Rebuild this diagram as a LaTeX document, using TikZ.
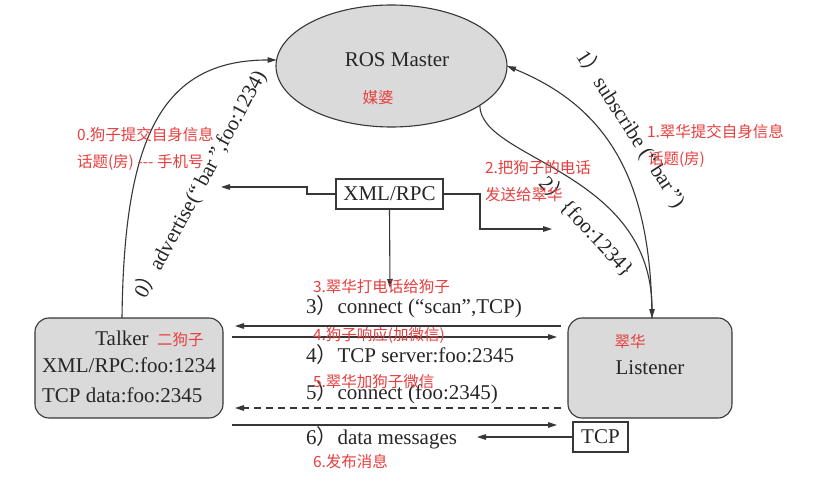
\documentclass[tikz,border=0pt]{standalone}
\usepackage{fontspec}
\setmainfont{Liberation Serif}
\newfontfamily\cjk{Noto Sans CJK SC}
\usetikzlibrary{arrows.meta,shapes.geometric}
\definecolor{redtxt}{RGB}{232,62,62}
\definecolor{boxfill}{RGB}{218,218,218}
\definecolor{linec}{RGB}{55,55,55}
\newcommand\rpar{{\cjk ）}}
\begin{document}
\begin{tikzpicture}[x=1pt,y=-1pt,
  every node/.style={inner sep=0pt, outer sep=0pt},
  lbl/.style={font=\fontsize{21}{25}\selectfont, text=black!85},
  note/.style={font=\cjk\fontsize{15.5}{18}\selectfont, text=redtxt, anchor=west},
  conn/.style={draw=linec, line width=1.1pt, -{Triangle[length=9pt,width=5.5pt]}},
  rbox/.style={draw=linec, line width=1.1pt, fill=boxfill, rounded corners=14pt},
  sbox/.style={draw=linec, line width=1.1pt, fill=white}
]
\path[use as bounding box, fill=white] (0,0) rectangle (817,481);

% nodes
\node[ellipse, draw=linec, line width=1.1pt, fill=boxfill, minimum width=231pt, minimum height=122pt] (master) at (391.5,66) {};
\node[lbl] (mastertxt) at (397,60) {ROS Master};
\node[note, anchor=center] (meipo) at (378,98) {媒婆};

\node[rbox, minimum width=188pt, minimum height=100pt] (talker) at (129,368) {};
\node[lbl] (talkertxt) at (122,338) {Talker};
\node[note] (ergouzi) at (157,340) {二狗子};
\node[lbl, anchor=west] (talkerxml) at (42,365) {XML/RPC:foo:1234};
\node[lbl, anchor=west] (talkertcp) at (42,395) {TCP data:foo:2345};

\node[rbox, minimum width=164pt, minimum height=100pt] (listener) at (650,368) {};
\node[note, anchor=center] (cuihua) at (630,342) {翠华};
\node[lbl] (listenertxt) at (650,368) {Listener};

\node[sbox, minimum width=55pt, minimum height=30pt] (tcp) at (600.5,437) {};
\node[lbl] (tcptxt) at (600.5,437) {TCP};

\node[sbox, minimum width=107pt, minimum height=30pt] (xml) at (389.5,194) {};
\node[lbl] (xmltxt) at (389.5,194) {XML/RPC};

% free ends
\coordinate (xmlL) at (221,187);
\coordinate (xmlR) at (552,229);
\coordinate (xmlD) at (390,288);
\coordinate (l1) at (235,326); \coordinate (r1) at (561,326);
\coordinate (l2) at (232,337); \coordinate (r2) at (557,337);
\coordinate (l3) at (235,408); \coordinate (r3) at (561,408);
\coordinate (l4) at (232,425); \coordinate (r4) at (557,425);
\coordinate (dm) at (477,437);

% XML/RPC connectors
\draw[conn] (xml.west) -- (307,194) -- (307,187) -- (xmlL);
\draw[conn] (xml.east) -- (480,194) -- (480,229) -- (xmlR);
\draw[conn] (xml.south) -- (xmlD);

% horizontal connectors
\draw[conn] (r1) -- (l1);
\draw[conn] (l2) -- (r2);
\draw[conn, dashed, dash pattern=on 7pt off 5pt] (r3) -- (l3);
\draw[conn] (l4) -- (r4);
\draw[conn] (tcp.west) -- (dm);

% curves
\draw[conn] ([xshift=-7pt]talker.north) .. controls (124,140) and (160,60) .. (master.177);
\draw[conn] ([xshift=2pt]listener.north) .. controls (651,190) and (615,110) .. (master.east);
\draw[conn] (master.-24) .. controls (480,160) and (652,170) .. ([xshift=2pt]listener.north);

% rotated labels
\node[lbl, rotate=61.7] (adv) at (200,184) {0\rpar advertise(“\,bar\,”,foo:1234)};
\node[lbl, rotate=-57] (sub) at (631,129) {1\rpar subscribe (“\,bar\,”)};
\node[lbl, rotate=-47] (foo) at (587,226) {2\rpar\{foo:1234\}};

% message labels
\node[lbl, anchor=west] (m3) at (306,307) {3\rpar connect (“scan”,TCP)};
\node[lbl, anchor=west] (m4) at (306,355) {4\rpar TCP server:foo:2345};
\node[lbl, anchor=west] (m5) at (306,393) {5\rpar connect (foo:2345)};
\node[lbl, anchor=west] (m6) at (306,438) {6\rpar data messages};

% red notes
\node[note] (n0a) at (77,135) {0.狗子提交自身信息};
\node[note] (n0b) at (77,163) {话题(房) --- 手机号};
\node[note] (n1a) at (647,132) {1.翠华提交自身信息};
\node[note] (n1b) at (648,160) {话题(房)};
\node[note] (n2a) at (485,168) {2.把狗子的电话};
\node[note] (n2b) at (485,195) {发送给翠华};
\node[note] (n3) at (313,287) {3.翠华打电话给狗子};
\node[note] (n4) at (313,335) {4.狗子响应(加微信)};
\node[note] (n5) at (313,382) {5.翠华加狗子微信};
\node[note] (n6) at (313,462) {6.发布消息};
\end{tikzpicture}
\end{document}
